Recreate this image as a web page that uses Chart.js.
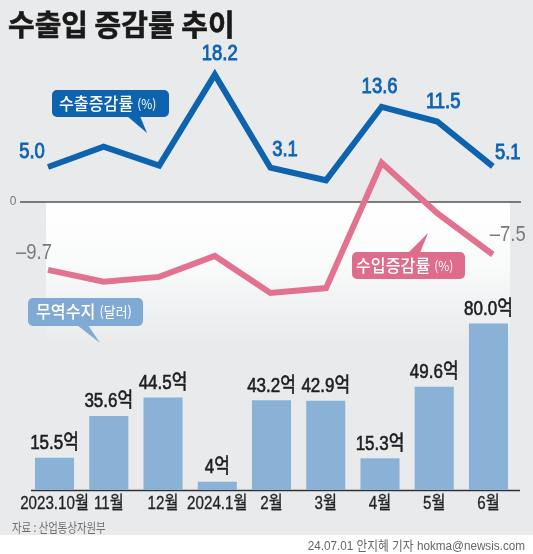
<!DOCTYPE html>
<html lang="ko">
<head>
<meta charset="utf-8">
<title>수출입 증감률 추이</title>
<script src="https://cdn.jsdelivr.net/npm/chart.js@4.4.0/dist/chart.umd.min.js"></script>
<style>
    html, body { margin: 0; padding: 0; background: #e8eaec; overflow: hidden; }
    #chart { display: block; }
</style>
</head>
<body>
<canvas id="chart" width="533" height="554"></canvas>
<script>
// --- data ---
const months = ["2023.10월", "11월", "12월", "2024.1월", "2월", "3월", "4월", "5월", "6월"];
const exportGrowth = [5.0, 7.9, 5.2, 18.2, 4.9, 3.1, 13.6, 11.5, 5.1];       // %
const importGrowth = [-9.7, -11.4, -10.7, -7.7, -13.0, -12.3, 5.6, -1.6, -7.5]; // %
const tradeBalance = [15.5, 35.6, 44.5, 4, 43.2, 42.9, 15.3, 49.6, 80.0];    // 억 달러

// --- layout ---
const BG = "#e8eaec";
const BLUE = "#0e63ae";
const PINK = "#e2728f";
const BAR = "#8ab2d7";
const AREA = { top: 40, bottom: 490, left: 27.4, right: 515.6 };
const ZERO_Y = 202;
const PX_PER_PCT = 7.0;
const PX_PER_EOK = 2.08;
const LINE_X0 = 48, LINE_STEP = 55.6;

const x2Min = -(LINE_X0 - AREA.left) / LINE_STEP;
const x2Max = x2Min + (AREA.right - AREA.left) / LINE_STEP;

// which points carry a value tag, and where it sits relative to the point
const exportTags = { 0: [-16, -15], 3: [5, -21], 5: [-41, -30], 6: [-2, -20], 7: [6, -20], 8: [15, -13] };
const importTags = { 0: [-14, -17], 8: [15, -20] };

const NUM_FONT = '"Liberation Sans", "Noto Sans CJK KR", sans-serif';
const KR_FONT = '"Noto Sans CJK KR", sans-serif';

function text(ctx, s, x, y, o) {
    ctx.save();
    ctx.font = o.font;
    ctx.fillStyle = o.color || "#222";
    ctx.textAlign = o.align || "center";
    ctx.textBaseline = "middle";
    ctx.translate(x, y);
    ctx.scale(o.sx || 1, 1);
    ctx.fillText(s, 0, 0);
    if (o.stroke) {
        ctx.strokeStyle = o.color;
        ctx.lineWidth = o.stroke;
        ctx.strokeText(s, 0, 0);
    }
    const w = ctx.measureText(s).width * (o.sx || 1);
    ctx.restore();
    return w;
}

function bubble(ctx, x, y, w, h, color, tail) {
    ctx.save();
    ctx.fillStyle = color;
    ctx.beginPath();
    ctx.roundRect(x, y, w, h, 5);
    ctx.fill();
    ctx.beginPath();
    ctx.moveTo(tail[0][0], tail[0][1]);
    ctx.lineTo(tail[1][0], tail[1][1]);
    ctx.lineTo(tail[2][0], tail[2][1]);
    ctx.closePath();
    ctx.fill();
    ctx.restore();
}

function label(ctx, main, unit, x, y, mainSize, unitSize) {
    const w = text(ctx, main, x, y, { font: `500 ${mainSize}px ${KR_FONT}`, color: "#fff", align: "left", sx: 0.95 });
    text(ctx, unit, x + w + 4, y, { font: `${unitSize}px ${KR_FONT}`, color: "#fff", align: "left", sx: 0.92 });
}

const backdrop = {
    id: "backdrop",
    beforeDatasetsDraw(chart) {
        const { ctx, width, height } = chart;
        const zeroY = chart.scales.y.getPixelForValue(0);
        const baseY = chart.scales.y2.getPixelForValue(0);
        ctx.save();
        ctx.fillStyle = BG;
        ctx.fillRect(0, 0, width, 535);
        ctx.fillStyle = "#fff";
        ctx.fillRect(0, 535, width, height - 535);

        // pale panel under the zero line
        const g = ctx.createLinearGradient(0, zeroY, 0, 345);
        g.addColorStop(0, "#ffffff");
        g.addColorStop(0.45, "#f9fafa");
        g.addColorStop(1, BG);
        ctx.fillStyle = g;
        ctx.fillRect(46, zeroY, 464, 345 - zeroY);

        // zero line
        ctx.strokeStyle = "#555";
        ctx.lineWidth = 1.3;
        ctx.beginPath();
        ctx.moveTo(20, zeroY);
        ctx.lineTo(521, zeroY);
        ctx.stroke();
        text(ctx, "0", 13, zeroY, { font: `12px ${NUM_FONT}`, color: "#777" });

        // bar baseline
        ctx.strokeStyle = "#333";
        ctx.lineWidth = 1.5;
        ctx.beginPath();
        ctx.moveTo(31, baseY + 0.5);
        ctx.lineTo(520, baseY + 0.5);
        ctx.stroke();
        ctx.restore();
    },
    afterDraw(chart) {
        const ctx = chart.ctx;

        text(ctx, "수출입 증감률 추이", 8, 25,
            { font: `bold 29px ${KR_FONT}`, color: "#1a1a1a", align: "left", stroke: 0.6 });

        // value tags on the lines
        const expMeta = chart.getDatasetMeta(0);
        Object.entries(exportTags).forEach(([i, [dx, dy]]) => {
            const p = expMeta.data[i];
            text(ctx, exportGrowth[i].toFixed(1), p.x + dx, p.y + dy,
                { font: `22px ${NUM_FONT}`, color: BLUE, sx: 0.84, stroke: 0.9 });
        });
        const impMeta = chart.getDatasetMeta(1);
        Object.entries(importTags).forEach(([i, [dx, dy]]) => {
            const p = impMeta.data[i];
            text(ctx, importGrowth[i].toFixed(1).replace("-", "–"), p.x + dx, p.y + dy,
                { font: `22px ${NUM_FONT}`, color: "#7a7a7a", sx: 0.84 });
        });

        // bar values
        const barMeta = chart.getDatasetMeta(2);
        barMeta.data.forEach((bar, i) => {
            const v = tradeBalance[i];
            text(ctx, v.toFixed(v >= 10 ? 1 : 0) + "억", bar.x, bar.y - 14,
                { font: `20px ${NUM_FONT}`, color: "#1e1e1e", sx: 0.85, stroke: 0.6 });
        });

        // month labels
        months.forEach((m, i) => {
            const x = chart.scales.x.getPixelForValue(i);
            text(ctx, m, x, 504, { font: `18.5px ${NUM_FONT}`, color: "#222", sx: 0.82, stroke: 0.3 });
        });

        // series callouts
        bubble(ctx, 52, 90, 117, 27, BLUE, [[127, 116], [140, 116], [147, 133]]);
        label(ctx, "수출증감률", "(%)", 59, 104, 17, 13);
        bubble(ctx, 352, 252, 113, 27, "#de6c8a", [[408, 253], [420, 253], [428, 233]]);
        label(ctx, "수입증감률", "(%)", 356, 266, 17, 13);
        bubble(ctx, 28, 298, 115, 28, "#80aad3", [[77, 325], [88, 325], [100, 343]]);
        label(ctx, "무역수지", "(달러)", 36, 312, 17, 14);

        text(ctx, "자료 : 산업통상자원부", 12, 527, { font: `13px ${KR_FONT}`, color: "#707070", align: "left", sx: 0.8 });
        text(ctx, "24.07.01 안지혜 기자 hokma@newsis.com", 525, 546,
            { font: `13px ${NUM_FONT}`, color: "#666", align: "right", sx: 0.9 });
    }
};

const ctx = document.getElementById("chart").getContext("2d");
new Chart(ctx, {
    type: "bar",
    data: {
        labels: months,
        datasets: [
            {
                type: "line",
                label: "수출증감률",
                data: exportGrowth.map((v, i) => ({ x: i, y: v })),
                xAxisID: "x2",
                yAxisID: "y",
                borderColor: BLUE,
                borderWidth: 6,
                borderJoinStyle: "miter",
                borderCapStyle: "butt",
                pointRadius: 0,
                tension: 0,
                fill: false
            },
            {
                type: "line",
                label: "수입증감률",
                data: importGrowth.map((v, i) => ({ x: i, y: v })),
                xAxisID: "x2",
                yAxisID: "y",
                borderColor: PINK,
                borderWidth: 6,
                borderJoinStyle: "miter",
                borderCapStyle: "butt",
                pointRadius: 0,
                tension: 0,
                fill: false
            },
            {
                type: "bar",
                label: "무역수지",
                data: tradeBalance,
                xAxisID: "x",
                yAxisID: "y2",
                backgroundColor: BAR,
                borderWidth: 0,
                grouped: false,
                barPercentage: 0.72,
                categoryPercentage: 1
            }
        ]
    },
    options: {
        responsive: false,
        animation: false,
        layout: {
            padding: { top: AREA.top, bottom: 554 - AREA.bottom, left: AREA.left, right: 533 - AREA.right }
        },
        scales: {
            x: { display: false, offset: true },
            x2: { type: "linear", display: false, offset: false, bounds: "data", min: x2Min, max: x2Max },
            y: {
                display: false,
                min: -(AREA.bottom - ZERO_Y) / PX_PER_PCT,
                max: (ZERO_Y - AREA.top) / PX_PER_PCT
            },
            y2: { display: false, min: 0, max: (AREA.bottom - AREA.top) / PX_PER_EOK }
        },
        plugins: {
            legend: { display: false },
            tooltip: { enabled: false }
        }
    },
    plugins: [backdrop]
});
</script>
</body>
</html>
